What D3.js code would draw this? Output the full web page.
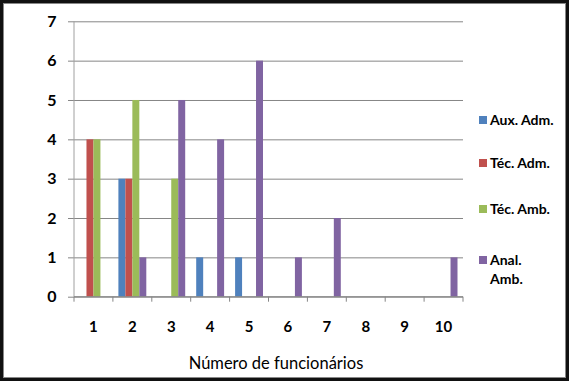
<!DOCTYPE html>
<html>
<head>
<meta charset="utf-8">
<script src="https://cdn.jsdelivr.net/npm/d3@7"></script>
<style>
  body { margin: 0; background: #fff; }
  text { font-family: Lato, "Open Sans", sans-serif; }
</style>
</head>
<body>
<div id="chart"></div>
<script>
var categories = ['1','2','3','4','5','6','7','8','9','10'];
var seriesNames = ['Aux. Adm.', 'Téc. Adm.', 'Téc. Amb.', 'Anal. Amb.'];
var auxAdm  = [0, 3, 0, 1, 1, 0, 0, 0, 0, 0];
var tecAdm  = [4, 3, 0, 0, 0, 0, 0, 0, 0, 0];
var tecAmb  = [4, 5, 3, 0, 0, 0, 0, 0, 0, 0];
var analAmb = [0, 1, 5, 4, 6, 1, 2, 0, 0, 1];
var yTicks = [0, 1, 2, 3, 4, 5, 6, 7];
var colors = ['#4F81BD', '#C0504D', '#9BBB59', '#8064A2'];

var values = [auxAdm, tecAdm, tecAmb, analAmb];
var rows = categories.map(function(c, i){
  return {cat: c, vals: values.map(function(s){ return s[i]; })};
});

var W = 569, H = 381;
var svg = d3.select('#chart').append('svg')
  .attr('width', W).attr('height', H);

svg.append('rect')
  .attr('x', 1.5).attr('y', 1.5).attr('width', W - 3).attr('height', H - 3)
  .attr('fill', '#fff').attr('stroke', '#111').attr('stroke-width', 3);
svg.append('rect')
  .attr('x', 3.5).attr('y', 3.5).attr('width', W - 7).attr('height', H - 7)
  .attr('fill', 'none').attr('stroke', '#888').attr('stroke-width', 1);

var plotL = 74, plotR = 463, plotT = 21.3, plotB = 296.7;

var x = d3.scaleBand().domain(categories).range([plotL, plotR]).padding(0);
var x1 = d3.scaleBand().domain(d3.range(4)).range([5.5, x.bandwidth() - 5.5]).padding(0);
var y = d3.scaleLinear().domain([0, 7]).range([plotB, plotT]);

// gridlines + y ticks
svg.append('g')
  .attr('transform', 'translate(' + plotL + ',0)')
  .call(d3.axisLeft(y).tickValues(yTicks).tickSize(-(plotR - plotL)).tickSizeOuter(0).tickFormat(''))
  .call(function(g){
    g.select('.domain').remove();
    g.selectAll('line').attr('stroke', '#868686').attr('x1', -6);
  });

svg.append('line')
  .attr('x1', plotL).attr('x2', plotL).attr('y1', plotT).attr('y2', plotB)
  .attr('stroke', '#a0a0a0');

yTicks.forEach(function(t){
  svg.append('text')
    .attr('x', 52).attr('y', y(t)).attr('dy', '0.36em')
    .attr('text-anchor', 'middle')
    .attr('font-size', 16).attr('font-weight', 'bold').attr('fill', '#000')
    .text(t);
});

// bars
var groups = svg.selectAll('g.datapoint')
  .data(rows).enter()
  .append('g').classed('datapoint', true)
  .attr('transform', function(d){ return 'translate(' + x(d.cat) + ',0)'; });

groups.selectAll('rect')
  .data(function(d){ return d.vals; })
  .enter().append('rect')
  .attr('x', function(d, i){ return x1(i); })
  .attr('width', x1.bandwidth())
  .attr('y', function(d){ return y(d); })
  .attr('height', function(d){ return plotB - y(d); })
  .attr('fill', function(d, i){ return colors[i]; });

// x axis
svg.append('g')
  .attr('transform', 'translate(0,' + plotB + ')')
  .call(d3.axisBottom(x).tickSize(0).tickFormat(''))
  .call(function(g){
    g.select('.domain').attr('stroke', '#868686').attr('d', 'M' + plotL + ',0H' + plotR);
  });

d3.range(11).forEach(function(i){
  var px = plotL + i * x.bandwidth();
  svg.append('line')
    .attr('x1', px).attr('x2', px).attr('y1', plotB).attr('y2', plotB + 5)
    .attr('stroke', '#868686');
});

categories.forEach(function(c){
  svg.append('text')
    .attr('x', x(c) + x.bandwidth() / 2).attr('y', 327).attr('dy', '0.36em')
    .attr('text-anchor', 'middle')
    .attr('font-size', 15).attr('font-weight', 'bold').attr('fill', '#000')
    .text(c);
});

svg.append('text')
  .attr('x', 276).attr('y', 363).attr('dy', '0.36em')
  .attr('text-anchor', 'middle')
  .attr('font-size', 16.5).attr('fill', '#000')
  .text('Número de funcionários');

// legend
var legendY = [120, 163, 209, 260];
seriesNames.forEach(function(n, i){
  var g = svg.append('g').attr('transform', 'translate(479,' + legendY[i] + ')');
  g.append('rect').attr('x', 0).attr('y', -4).attr('width', 8).attr('height', 8)
    .attr('fill', colors[i]);
  var t = g.append('text').attr('x', 11).attr('y', 0).attr('dy', '0.36em')
    .attr('font-size', 14).attr('font-weight', 'bold').attr('fill', '#000');
  if (n === 'Anal. Amb.') {
    t.append('tspan').attr('x', 11).text('Anal.');
    t.append('tspan').attr('x', 11).attr('dy', 19).text('Amb.');
  } else {
    t.text(n);
  }
});
</script>
</body>
</html>
